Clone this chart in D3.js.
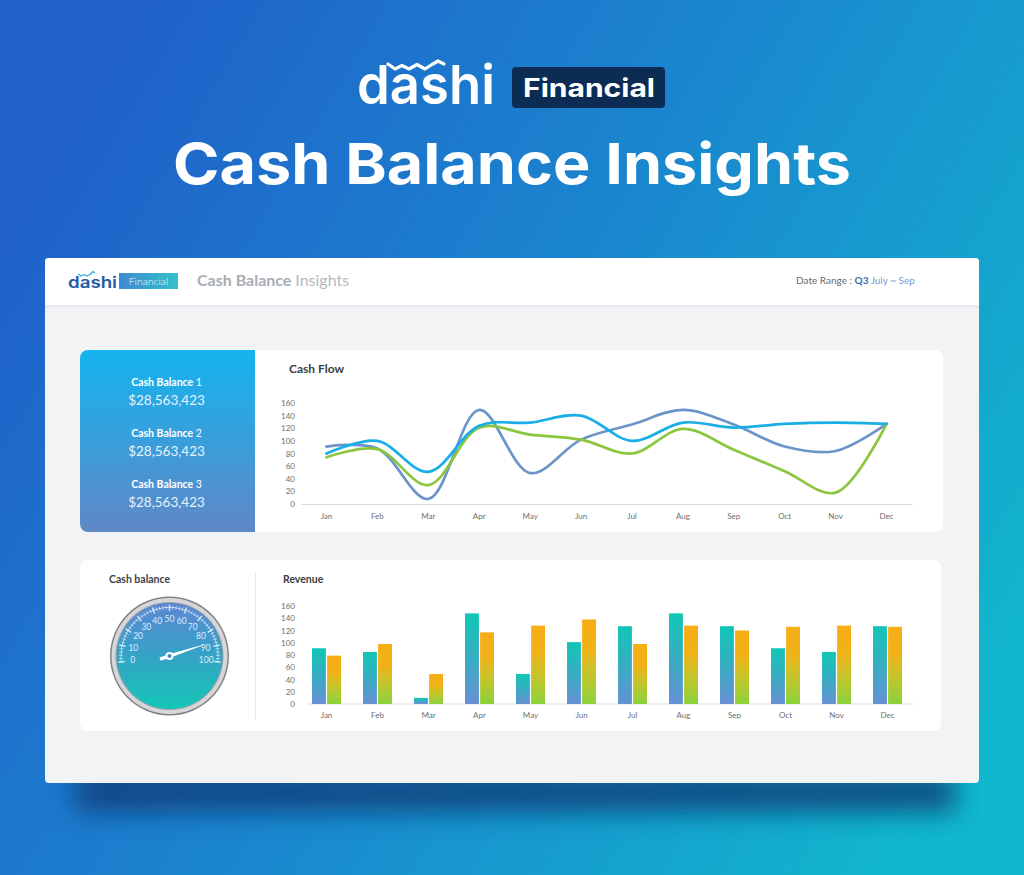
<!DOCTYPE html>
<html><head><meta charset="utf-8">
<script src="https://cdn.jsdelivr.net/npm/d3@7"></script>
<style>html,body{margin:0;padding:0;background:#1a80c8;overflow:hidden} svg{display:block}</style>
</head><body><svg id="c" width="1024" height="875"></svg>
<script>
// ---------- DATA ----------
const months = ["Jan","Feb","Mar","Apr","May","Jun","Jul","Aug","Sep","Oct","Nov","Dec"];
const cashFlowSteel = [91, 88, 8, 149, 49, 102, 126, 149, 126, 91, 84, 127];
const cashFlowCyan  = [80, 100, 51, 124, 129, 140, 100, 129, 121, 127, 129, 127];
const cashFlowGreen = [74, 87, 30, 121, 110, 102, 80, 119, 86, 52, 18, 127];
const cashFlowTicks = [0, 20, 40, 60, 80, 100, 120, 140, 160];
const revenueTeal   = [91, 85, 10, 148, 49, 101, 127, 148, 127, 91, 85, 127];
const revenueOrange = [79, 98, 49, 117, 128, 138, 98, 128, 120, 126, 128, 126];
const revenueTicks  = [0, 20, 40, 60, 80, 100, 120, 140, 160];
const balanceNames  = ["Cash Balance 1", "Cash Balance 2", "Cash Balance 3"];
const balanceValues = ["$28,563,423", "$28,563,423", "$28,563,423"];
const gaugeLabels   = [0, 10, 20, 30, 40, 50, 60, 70, 80, 90, 100];
const gaugeValue    = 87;

const svg = d3.select("#c");
const defs = svg.append("defs");
const FONT = "Lato, 'Open Sans', sans-serif";

function lg(id, stops, x2 = 0, y2 = 1, x1 = 0, y1 = 0) {
  const g = defs.append("linearGradient").attr("id", id)
    .attr("x1", x1).attr("y1", y1).attr("x2", x2).attr("y2", y2);
  stops.forEach(([o, c]) => g.append("stop").attr("offset", o).attr("stop-color", c));
}
lg("bg", [[0, "#2060c9"], [0.5, "#1a88cf"], [1, "#11b7cd"]], 1, 0.75, 0, 0.25);
lg("bluePanel", [[0, "#14b4ef"], [1, "#5f88c6"]]);
lg("barTeal", [[0, "#10c6b5"], [0.45, "#33b0c1"], [1, "#6690d3"]]);
lg("barOrange", [[0, "#f8ad15"], [0.35, "#f0b218"], [0.65, "#c4c52b"], [1, "#8bd23c"]]);
lg("gaugeFace", [[0, "#5b86d3"], [0.5, "#35a3c6"], [1, "#14c7b7"]]);
lg("finBox", [[0, "#3d8cd3"], [1, "#35bfc8"]], 1, 0);
lg("hdrShadow", [[0, "#e3e6ea"], [1, "#f2f3f5"]]);

const blur = defs.append("filter").attr("id", "blur").attr("x", "-20%").attr("y", "-100%").attr("width", "140%").attr("height", "300%");
blur.append("feGaussianBlur").attr("stdDeviation", 13);

// ---------- BACKGROUND ----------
svg.append("rect").attr("width", 1024).attr("height", 875).attr("fill", "url(#bg)");

// big logo
const logo = svg.append("g");
logo.append("text").attr("x", 357).attr("y", 104).attr("font-family", "Inter, sans-serif")
  .attr("font-weight", 600).attr("font-size", 54).attr("fill", "#fff")
  .attr("textLength", 138).attr("lengthAdjust", "spacingAndGlyphs").text("dashi");
logo.append("path").attr("d", "M388,64 L395,69 L402,65.5 L409,69 L417,64.5 L425,69 L432,64.5 L438,61 L444,64")
  .attr("fill", "none").attr("stroke", "#fff").attr("stroke-width", 3.2)
  .attr("stroke-linejoin", "round").attr("stroke-linecap", "round");
logo.append("rect").attr("x", 512).attr("y", 67).attr("width", 153).attr("height", 41).attr("rx", 4).attr("fill", "#0c2c53");
logo.append("text").attr("x", 523).attr("y", 97).attr("font-family", "Inter, sans-serif")
  .attr("font-weight", 700).attr("font-size", 25).attr("fill", "#fff")
  .attr("textLength", 132).attr("lengthAdjust", "spacingAndGlyphs").text("Financial");

svg.append("text").attr("x", 173).attr("y", 184).attr("font-family", "Inter, sans-serif")
  .attr("font-weight", 700).attr("font-size", 57).attr("fill", "#fff")
  .attr("textLength", 678).attr("lengthAdjust", "spacingAndGlyphs").text("Cash Balance Insights");

// ---------- CARD ----------
svg.append("rect").attr("x", 75).attr("y", 772).attr("width", 880).attr("height", 40)
  .attr("fill", "#0b3b74").attr("opacity", 0.8).attr("filter", "url(#blur)");
svg.append("rect").attr("x", 45).attr("y", 258).attr("width", 934).attr("height", 525).attr("rx", 4).attr("fill", "#f2f3f5");
svg.append("rect").attr("x", 45).attr("y", 258).attr("width", 934).attr("height", 47).attr("rx", 4).attr("fill", "#fff");
svg.append("rect").attr("x", 45).attr("y", 290).attr("width", 934).attr("height", 15).attr("fill", "#fff");
svg.append("rect").attr("x", 45).attr("y", 305).attr("width", 934).attr("height", 4).attr("fill", "url(#hdrShadow)");

// small logo
svg.append("text").attr("x", 68).attr("y", 288).attr("font-family", "Inter, sans-serif")
  .attr("font-weight", 600).attr("font-size", 16).attr("fill", "#2459a6")
  .attr("textLength", 49).attr("lengthAdjust", "spacingAndGlyphs").text("dashi");
svg.append("path").attr("d", "M78,274 L81,276 L84,274.5 L87,276 L90,274.5 L93,271.5 L95,273")
  .attr("fill", "none").attr("stroke", "#34a9e2").attr("stroke-width", 1.3).attr("stroke-linejoin", "round");
svg.append("rect").attr("x", 119).attr("y", 273).attr("width", 59).attr("height", 16).attr("fill", "url(#finBox)");
svg.append("text").attr("x", 148.5).attr("y", 285).attr("text-anchor", "middle").attr("font-family", FONT)
  .attr("font-size", 10.5).attr("fill", "#eaf7ff").attr("font-weight", 300).text("Financial");

const ht = svg.append("text").attr("x", 197).attr("y", 286).attr("font-family", FONT).attr("font-size", 16);
ht.append("tspan").attr("font-weight", 700).attr("fill", "#a7adb5").text("Cash Balance ");
ht.append("tspan").attr("font-weight", 400).attr("fill", "#b4b9c0").text("Insights");

const dr = svg.append("text").attr("x", 796).attr("y", 284).attr("font-family", FONT).attr("font-size", 10);
dr.append("tspan").attr("fill", "#666b70").text("Date Range : ");
dr.append("tspan").attr("fill", "#2f6fb9").attr("font-weight", 700).text("Q3");
dr.append("tspan").attr("fill", "#6d9fd4").text(" July ~ Sep");

// ---------- TOP PANEL ----------
const clip = defs.append("clipPath").attr("id", "topClip");
clip.append("rect").attr("x", 80).attr("y", 350).attr("width", 863).attr("height", 182).attr("rx", 8);
svg.append("rect").attr("x", 80).attr("y", 350).attr("width", 863).attr("height", 182).attr("rx", 8).attr("fill", "#fff");
svg.append("rect").attr("x", 80).attr("y", 350).attr("width", 175).attr("height", 182)
  .attr("fill", "url(#bluePanel)").attr("clip-path", "url(#topClip)");

balanceNames.forEach((n, i) => {
  const y0 = 386 + i * 51;
  const parts = n.split(" ");
  const t = svg.append("text").attr("x", 166.5).attr("y", y0).attr("text-anchor", "middle")
    .attr("font-family", FONT).attr("font-size", 10.5).attr("fill", "#fff");
  t.append("tspan").attr("font-weight", 700).text(parts.slice(0, -1).join(" ") + " ");
  t.append("tspan").attr("font-weight", 400).text(parts[parts.length - 1]);
  svg.append("text").attr("x", 166.5).attr("y", y0 + 19).attr("text-anchor", "middle")
    .attr("font-family", FONT).attr("font-size", 13.5).attr("font-weight", 400).attr("fill", "#e6f3fc").text(balanceValues[i]);
});

svg.append("text").attr("x", 289).attr("y", 373).attr("font-family", FONT).attr("font-weight", 700)
  .attr("font-size", 12).attr("fill", "#3a3f45").text("Cash Flow");

// cash flow chart
const xC = d3.scaleBand().domain(months).range([301, 912]);
const yC = d3.scaleLinear().domain([0, 160]).range([504, 403]);
function styleAxis(g) {
  g.selectAll("text").attr("font-family", FONT).attr("font-size", 8).attr("fill", "#6b6e72");
}
svg.append("g").attr("transform", "translate(295,0)")
  .call(d3.axisLeft(yC).tickValues(cashFlowTicks).tickSize(0).tickPadding(0))
  .call(g => g.select(".domain").remove()).call(styleAxis);
svg.append("g").attr("transform", "translate(0,504)")
  .call(d3.axisBottom(xC).tickSize(0).tickSizeOuter(0).tickPadding(9))
  .call(g => g.select(".domain").attr("stroke", "#d9dbde"))
  .call(styleAxis);

const lineC = d3.line().x((d, i) => xC(months[i]) + xC.bandwidth() / 2).y(d => yC(d))
  .curve(d3.curveCatmullRom.alpha(0.5));
[[cashFlowSteel, "#6b95c9"], [cashFlowGreen, "#8cc63f"], [cashFlowCyan, "#19aee6"]].forEach(([s, c]) => {
  svg.append("path").attr("d", lineC(s)).attr("fill", "none").attr("stroke", c)
    .attr("stroke-width", 2.7).attr("stroke-linecap", "round");
});

// ---------- BOTTOM PANEL ----------
svg.append("rect").attr("x", 80).attr("y", 560).attr("width", 861).attr("height", 171).attr("rx", 8).attr("fill", "#fff");
svg.append("line").attr("x1", 255.5).attr("x2", 255.5).attr("y1", 572).attr("y2", 720).attr("stroke", "#e6e8eb");
svg.append("text").attr("x", 109).attr("y", 583).attr("font-family", FONT).attr("font-weight", 700)
  .attr("font-size", 10.5).attr("fill", "#3a3f45").text("Cash balance");
svg.append("text").attr("x", 283).attr("y", 583).attr("font-family", FONT).attr("font-weight", 700)
  .attr("font-size", 10.5).attr("fill", "#3a3f45").text("Revenue");

// revenue chart
const xR = d3.scaleBand().domain(months).range([301, 913]);
const xR1 = d3.scaleBand().domain(["teal", "orange"]).range([-14.5, 14.5]).paddingInner(0.08);
const yR = d3.scaleLinear().domain([0, 160]).range([704, 606]);
svg.append("g").attr("transform", "translate(295,0)")
  .call(d3.axisLeft(yR).tickValues(revenueTicks).tickSize(0).tickPadding(0))
  .call(g => g.select(".domain").remove()).call(styleAxis);
const gx = svg.append("g").attr("transform", "translate(0,704)")
  .call(d3.axisBottom(xR).tickSize(0).tickSizeOuter(0).tickPadding(8))
  .call(g => g.select(".domain").remove()).call(styleAxis);
gx.append("line").attr("x1", 308).attr("x2", xR.range()[1]).attr("stroke", "#d9dbde");

const groups = svg.append("g").selectAll("g").data(months).join("g")
  .attr("transform", d => `translate(${xR(d) + xR.bandwidth() / 2},0)`);
groups.append("rect").attr("x", xR1("teal")).attr("width", xR1.bandwidth())
  .attr("y", (d, i) => yR(revenueTeal[i])).attr("height", (d, i) => yR(0) - yR(revenueTeal[i]))
  .attr("fill", "url(#barTeal)");
groups.append("rect").attr("x", xR1("orange")).attr("width", xR1.bandwidth())
  .attr("y", (d, i) => yR(revenueOrange[i])).attr("height", (d, i) => yR(0) - yR(revenueOrange[i]))
  .attr("fill", "url(#barOrange)");

// ---------- GAUGE ----------
const cx = 169.5, cy = 656;
const gg = svg.append("g").attr("transform", `translate(${cx},${cy})`);
gg.append("circle").attr("r", 59.5).attr("fill", "#7f8388");
gg.append("circle").attr("r", 58).attr("fill", "#d5d7da");
gg.append("circle").attr("r", 54).attr("fill", "#9ba1a7");
gg.append("circle").attr("r", 53).attr("fill", "url(#gaugeFace)");
const ang = d3.scaleLinear().domain([0, 100]).range([-97, 97]);
const rad = a => (a - 90) * Math.PI / 180;
const pt = (v, r) => [Math.cos(rad(ang(v))) * r, Math.sin(rad(ang(v))) * r];
gg.append("path").attr("d", d3.arc().innerRadius(48.2).outerRadius(48.9)
  .startAngle(ang(0) * Math.PI / 180).endAngle(ang(100) * Math.PI / 180)())
  .attr("fill", "#e8f4ff").attr("opacity", 0.85);
d3.range(0, 101, 2).forEach(v => {
  const major = v % 10 === 0;
  const [x1, y1] = pt(v, major ? 45 : 46.5);
  const [x2, y2] = pt(v, major ? 51.5 : 50.5);
  gg.append("line").attr("x1", x1).attr("y1", y1).attr("x2", x2).attr("y2", y2)
    .attr("stroke", "#eef7ff").attr("stroke-width", major ? 1.5 : 0.7).attr("opacity", 0.85);
});
gaugeLabels.forEach(v => {
  const [x, y] = pt(v, 37);
  gg.append("text").attr("x", x).attr("y", y).attr("dy", "0.35em").attr("text-anchor", "middle")
    .attr("font-family", FONT).attr("font-size", 8.5).attr("fill", "#dcecff").text(v);
});
const [tx, ty] = pt(gaugeValue, 40);
const nA = rad(ang(gaugeValue));
const px = -Math.sin(nA), py = Math.cos(nA);
const bx = -Math.cos(nA) * 10, by = -Math.sin(nA) * 10;
gg.append("path").attr("d", `M${tx},${ty} L${px * 1.8},${py * 1.8} L${bx + px * 1.8},${by + py * 1.8} L${bx - px * 1.8},${by - py * 1.8} L${-px * 1.8},${-py * 1.8} Z`)
  .attr("fill", "#fff");
gg.append("circle").attr("r", 4).attr("fill", "#fff");
gg.append("circle").attr("r", 2).attr("fill", "#3b8fc9");
</script></body></html>
